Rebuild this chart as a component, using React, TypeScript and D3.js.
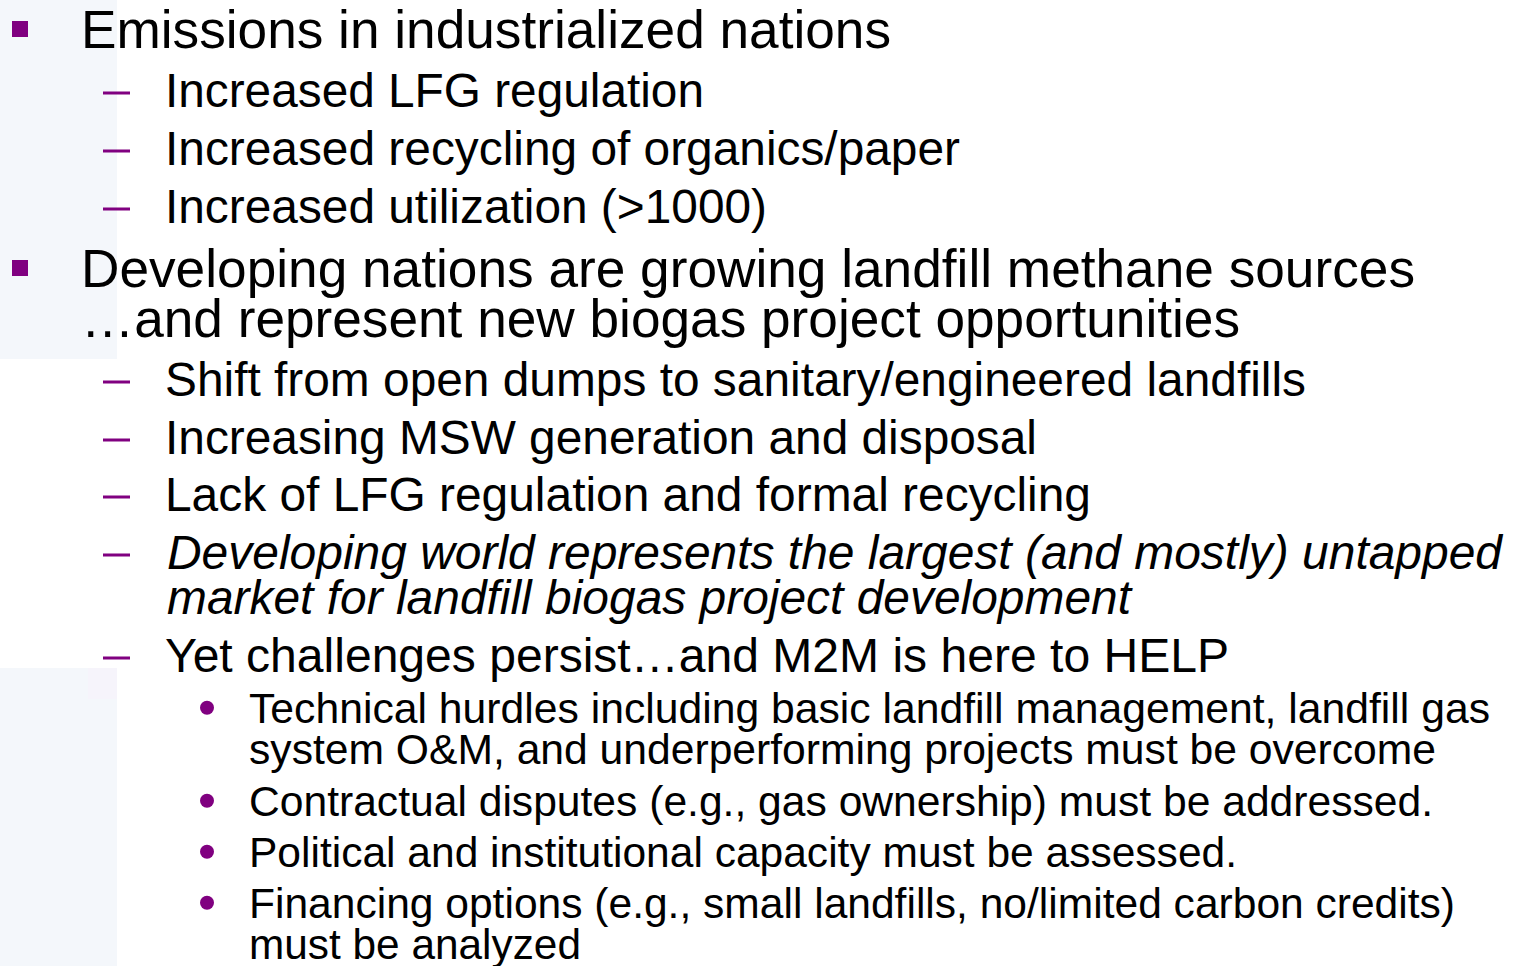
import React, { useEffect, useRef } from "react";
import * as d3 from "d3";

// ---- content ----
const lineTexts = [
  "Emissions in industrialized nations",
  "Increased LFG regulation",
  "Increased recycling of organics/paper",
  "Increased utilization (>1000)",
  "Developing nations are growing landfill methane sources",
  "\u2026and represent new biogas project opportunities",
  "Shift from open dumps to sanitary/engineered landfills",
  "Increasing MSW generation and disposal",
  "Lack of LFG regulation and formal recycling",
  "Developing world represents the largest (and mostly) untapped",
  "market for landfill biogas project development",
  "Yet challenges persist\u2026and M2M is here to HELP",
  "Technical hurdles including basic landfill management, landfill gas",
  "system O&M, and underperforming projects must be overcome",
  "Contractual disputes (e.g., gas ownership) must be addressed.",
  "Political and institutional capacity must be assessed.",
  "Financing options (e.g., small landfills, no/limited carbon credits)",
  "must be analyzed",
];
const lineLevels = [1, 2, 2, 2, 1, 1, 2, 2, 2, 2, 2, 2, 3, 3, 3, 3, 3, 3];
const lineItalic = [0, 0, 0, 0, 0, 0, 0, 0, 0, 1, 1, 0, 0, 0, 0, 0, 0, 0];
// 1 = line starts a new bullet, 0 = continuation line
const lineBullet = [1, 1, 1, 1, 1, 0, 1, 1, 1, 1, 0, 1, 1, 0, 1, 1, 1, 0];

// ---- layout ----
const baselines = [48, 107, 165, 223, 287, 337, 396, 454, 511, 569, 614, 672, 723, 764, 816, 867, 918, 959];
const lineEnds = [891, 704, 960, 767, 1415, 1240, 1306, 1037, 1091, 1502, 1131, 1229, 1490, 1436, 1433, 1237, 1455, 581];

const PURPLE = "#800080";
const FONT = "'Liberation Sans', Arial, Helvetica, sans-serif";

export default function App() {
  const ref = useRef<SVGSVGElement | null>(null);

  useEffect(() => {
    const svg = d3.select(ref.current);
    svg.selectAll("*").remove();

    const W = 1520, H = 966;
    const levelFont = d3.scaleOrdinal<number, number>().domain([1, 2, 3]).range([53.2, 47.8, 42.6]);
    const levelTextX = d3.scaleOrdinal<number, number>().domain([1, 2, 3]).range([81, 165, 249]);

    svg.append("rect").attr("width", W).attr("height", H).attr("fill", "#ffffff");
    // pale left strip
    svg.append("rect").attr("x", 0).attr("y", 0).attr("width", 117).attr("height", 359).attr("fill", "#f4f7fb");
    svg.append("rect").attr("x", 0).attr("y", 668).attr("width", 117).attr("height", H - 668).attr("fill", "#f4f7fb");
    svg.append("rect").attr("x", 88).attr("y", 668).attr("width", 29).attr("height", 31).attr("fill", "#f6f4fb");

    const rows = lineTexts.map((t, i) => ({
      text: t,
      level: lineLevels[i],
      italic: lineItalic[i] === 1,
      bullet: lineBullet[i] === 1,
      y: baselines[i],
      end: lineEnds[i],
    }));

    // markers
    rows.forEach((r) => {
      if (!r.bullet) return;
      if (r.level === 1) {
        svg.append("rect").attr("x", 12).attr("y", r.y - 27).attr("width", 16).attr("height", 16).attr("fill", PURPLE);
      } else if (r.level === 2) {
        svg.append("rect").attr("x", 103).attr("y", r.y - 15.5).attr("width", 27).attr("height", 3).attr("fill", PURPLE);
      } else {
        svg.append("circle").attr("cx", 207).attr("cy", r.y - 15.3).attr("r", 7).attr("fill", PURPLE);
      }
    });

    // text
    svg
      .selectAll("text.line")
      .data(rows)
      .join("text")
      .attr("class", "line")
      .attr("x", (d) => (d.italic ? 167 : levelTextX(d.level)))
      .attr("y", (d) => d.y)
      .attr("font-family", FONT)
      .attr("font-size", (d) => levelFont(d.level))
      .attr("font-style", (d) => (d.italic ? "italic" : "normal"))
      .attr("fill", "#000000")
      .attr("textLength", (d) => d.end - (d.italic ? 167 : levelTextX(d.level)))
      .attr("lengthAdjust", "spacingAndGlyphs")
      .text((d) => d.text);
  }, []);

  return (
    <svg
      ref={ref}
      width={1520}
      height={966}
      style={{ position: "fixed", left: 0, top: 0, display: "block" }}
    />
  );
}
